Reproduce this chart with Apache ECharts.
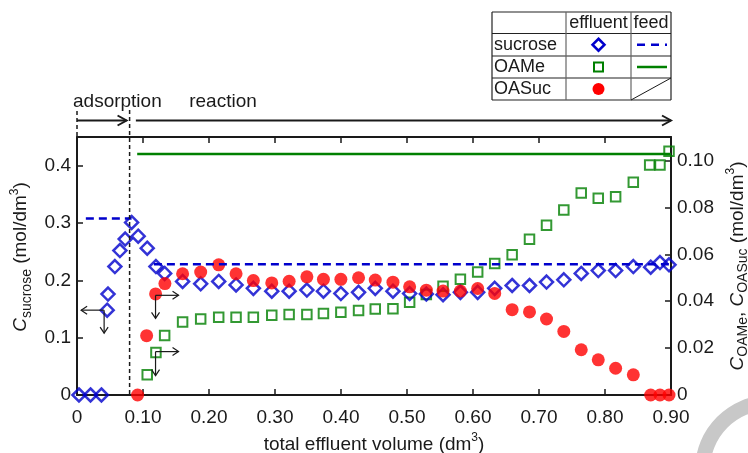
<!DOCTYPE html>
<html>
<head>
<meta charset="utf-8">
<script src="https://cdn.jsdelivr.net/npm/echarts@6/dist/echarts.min.js"></script>
<style>
html, body { margin: 0; padding: 0; background: #fff; }
#chart { width: 748px; height: 453px; }
</style>
</head>
<body>
<div id="chart"></div>
<script>
const FONT = '"Liberation Sans", Arial, sans-serif';
const BLUE = '#0000cc', GREEN = '#008000', RED = '#ff0000', INK = '#1a1a1a';

// effluent samples (volume in dm3)
const sucroseVol = [0.003, 0.0205, 0.037, 0.0457, 0.047, 0.0574, 0.065, 0.073, 0.0827, 0.0927, 0.1064, 0.1196, 0.1328,
  0.160, 0.1874, 0.2147, 0.241, 0.2672, 0.2951, 0.3214, 0.3483, 0.3734, 0.3998, 0.4266, 0.4519, 0.4787, 0.504,
  0.5293, 0.5546, 0.5809, 0.6071, 0.6329, 0.6593, 0.6856, 0.7114, 0.7376, 0.764, 0.7898, 0.8161, 0.8429, 0.8692, 0.8833, 0.897];
const sucroseConc = [0, 0, 0, 0.148, 0.176, 0.224, 0.252, 0.272, 0.301, 0.277, 0.256, 0.224, 0.212,
  0.198, 0.194, 0.198, 0.192, 0.186, 0.181, 0.181, 0.183, 0.181, 0.177, 0.179, 0.186, 0.181, 0.177,
  0.176, 0.175, 0.179, 0.179, 0.186, 0.191, 0.191, 0.197, 0.201, 0.212, 0.217, 0.217, 0.224, 0.223, 0.231, 0.227];

const oameVol = [0.1064, 0.1196, 0.1328, 0.160, 0.1874, 0.2147, 0.241, 0.2672, 0.2951, 0.3214, 0.3483, 0.3734, 0.3998,
  0.4266, 0.4519, 0.4787, 0.504, 0.5293, 0.5546, 0.5809, 0.6071, 0.6329, 0.6593, 0.6856, 0.7114, 0.7376, 0.764,
  0.7898, 0.8161, 0.8429, 0.8677, 0.8833, 0.897];
const oameConc = [0.0086, 0.0181, 0.0254, 0.0311, 0.0324, 0.0331, 0.0331, 0.0331, 0.034, 0.0343, 0.0343, 0.0347, 0.0353,
  0.036, 0.0367, 0.0368, 0.0395, 0.0428, 0.0464, 0.0493, 0.0524, 0.0561, 0.0598, 0.0664, 0.0724, 0.0789, 0.0861,
  0.0839, 0.0845, 0.0907, 0.0981, 0.0981, 0.1039];

const oasucVol = [0.0918, 0.1055, 0.1191, 0.1332, 0.160, 0.1874, 0.2147, 0.241, 0.2672, 0.2951, 0.3214, 0.3483, 0.3734,
  0.3998, 0.4266, 0.4519, 0.4787, 0.504, 0.5293, 0.5546, 0.5809, 0.6071, 0.6329, 0.6593, 0.6856, 0.7114, 0.7376,
  0.764, 0.7898, 0.8161, 0.8429, 0.8692, 0.8833, 0.897];
const oasucConc = [0, 0.0253, 0.0431, 0.0475, 0.0517, 0.0524, 0.0555, 0.0517, 0.0488, 0.0478, 0.0485, 0.0504, 0.0493,
  0.0493, 0.05, 0.049, 0.0481, 0.0461, 0.0447, 0.0443, 0.0443, 0.0454, 0.0433, 0.0364, 0.0354, 0.0324, 0.0271,
  0.0193, 0.015, 0.0114, 0.0086, 0, 0, 0];

// feed concentrations and where they apply
const sucroseFeedAdsVol = [0.0134, 0.0827], sucroseFeedAds = 0.308;
const sucroseFeedRxnVol = [0.1165, 0.9], sucroseFeedRxn = 0.228;
const oameFeedVol = [0.0912, 0.9], oameFeed = 0.1028;
const adsorptionEnd = 0.0797;

// axis ranges
const xRange = [0, 0.9], xStep = 0.1;
const leftRange = [0, 0.45], leftStep = 0.1;
const rightRange = [0, 0.11], rightStep = 0.02;

const onStep = (v, step) => Math.abs(v / step - Math.round(v / step)) < 1e-6;
const pairs = (xs, ys) => xs.map((x, i) => [x, ys[i]]);
const flat = (xs, y) => xs.map(x => [x, y]);

const tickStyle = { show: true, inside: true, length: 6, lineStyle: { color: INK, width: 1.5 } };
const lineStyle = { show: true, onZero: false, lineStyle: { color: INK, width: 2 } };
const labelStyle = { color: INK, fontSize: 19, fontFamily: FONT };
const richName = {
  i: { fontStyle: 'italic', fontSize: 19, fontFamily: FONT, color: INK, lineHeight: 25 },
  sub: { fontSize: 14, fontFamily: FONT, color: INK, verticalAlign: 'bottom', lineHeight: 13 },
  sup: { fontSize: 12, fontFamily: FONT, color: INK, verticalAlign: 'top', lineHeight: 12 }
};
const nameStyle = { fontSize: 19, fontFamily: FONT, color: INK, lineHeight: 25, rich: richName };

const option = {
  animation: false,
  backgroundColor: '#fff',
  grid: { left: 77, right: 77, top: 137, bottom: 58, containLabel: false, outerBoundsMode: 'none' },
  xAxis: [{
    type: 'value', position: 'bottom', min: xRange[0], max: xRange[1], interval: xStep,
    axisLine: lineStyle, axisTick: tickStyle, splitLine: { show: false },
    axisLabel: Object.assign({ margin: 13, formatter: v => v === 0 ? '0' : v.toFixed(2) }, labelStyle),
    name: 'total effluent volume (dm{sup|3})', nameLocation: 'middle', nameGap: 33, nameTextStyle: nameStyle
  }, {
    type: 'value', position: 'top', min: xRange[0], max: xRange[1], interval: xStep,
    axisLine: lineStyle, axisTick: tickStyle, axisLabel: { show: false }, splitLine: { show: false }
  }],
  yAxis: [{
    type: 'value', position: 'left', min: leftRange[0], max: leftRange[1], interval: leftStep,
    axisLine: lineStyle, axisTick: tickStyle, splitLine: { show: false },
    axisLabel: Object.assign({ margin: 6, formatter: v => v === 0 ? '0' : (onStep(v, leftStep) ? v.toFixed(1) : '') }, labelStyle),
    name: '{i|C}{sub|sucrose} (mol/dm{sup|3})', nameLocation: 'middle', nameGap: 40, nameRotate: 90,
    nameTextStyle: Object.assign({ padding: [0, 0, 0, 18] }, nameStyle)
  }, {
    type: 'value', position: 'right', min: rightRange[0], max: rightRange[1], interval: rightStep,
    axisLine: lineStyle, axisTick: tickStyle, splitLine: { show: false },
    axisLabel: Object.assign({ margin: 6, formatter: v => v === 0 ? '0' : (onStep(v, rightStep) ? v.toFixed(2) : '') }, labelStyle),
    name: '{i|C}{sub|OAMe}, {i|C}{sub|OASuc} (mol/dm{sup|3})', nameLocation: 'middle', nameGap: 53, nameRotate: 90, nameTextStyle: nameStyle
  }],
  series: [
    { type: 'line', yAxisIndex: 0, data: flat(sucroseFeedAdsVol, sucroseFeedAds), symbol: 'none', silent: true,
      lineStyle: { color: BLUE, width: 2.5, type: [8, 5] } },
    { type: 'line', yAxisIndex: 0, data: flat(sucroseFeedRxnVol, sucroseFeedRxn), symbol: 'none', silent: true,
      lineStyle: { color: BLUE, width: 2.5, type: [8, 5] } },
    { type: 'line', yAxisIndex: 1, data: flat(oameFeedVol, oameFeed), symbol: 'none', silent: true,
      lineStyle: { color: GREEN, width: 2.5 } },
    { type: 'scatter', yAxisIndex: 1, data: pairs(oameVol, oameConc), symbol: 'rect', symbolSize: 9.5, clip: false,
      itemStyle: { color: 'rgba(255,255,255,0)', borderColor: GREEN, borderWidth: 2 } },
    { type: 'scatter', yAxisIndex: 0, data: pairs(sucroseVol, sucroseConc), symbol: 'diamond', symbolSize: 13, clip: false,
      itemStyle: { color: 'rgba(255,255,255,0)', borderColor: BLUE, borderWidth: 2.5 } },
    { type: 'scatter', yAxisIndex: 1, data: pairs(oasucVol, oasucConc), symbol: 'circle', symbolSize: 13, clip: false,
      itemStyle: { color: RED } }
  ]
};

const chart = echarts.init(document.getElementById('chart'));
chart.setOption(option);

const toPx = (x, y, yAxisIndex) => chart.convertToPixel({ xAxisIndex: 0, yAxisIndex: yAxisIndex }, [x, y]);

function arrow(x1, y1, x2, y2, lw, headLen, headHalf) {
  const a = Math.atan2(y2 - y1, x2 - x1);
  const c = Math.cos(a), s = Math.sin(a);
  const bx = x2 - c * headLen, by = y2 - s * headLen;
  return [
    { type: 'line', z: 100, shape: { x1: x1, y1: y1, x2: x2, y2: y2 }, style: { stroke: INK, lineWidth: lw } },
    { type: 'polyline', z: 100, shape: { points: [[bx - s * headHalf, by + c * headHalf], [x2, y2], [bx + s * headHalf, by - c * headHalf]] },
      style: { stroke: INK, lineWidth: lw, fill: null } }
  ];
}
function txt(x, y, text, align, size) {
  return { type: 'text', z: 100, x: x, y: y,
    style: { text: text, fontSize: size || 18, fontFamily: FONT, fill: INK, align: align || 'left', verticalAlign: 'middle' } };
}

const origin = toPx(0, 0, 0);
const gridTop = toPx(0, leftRange[1], 0)[1];
const gridBottom = origin[1];
const arrowY = gridTop - 16.5;
const dash = { stroke: INK, lineWidth: 1.5, lineDash: [4, 3] };
const g = [];

// phase markers above the plot
const xEnd = toPx(adsorptionEnd, 0, 0)[0];
g.push({ type: 'line', z: 100, shape: { x1: origin[0], y1: gridTop - 26, x2: origin[0], y2: gridTop }, style: dash });
g.push({ type: 'line', z: 100, shape: { x1: xEnd, y1: gridTop - 27, x2: xEnd, y2: gridBottom }, style: dash });
g.push(...arrow(origin[0], arrowY, toPx(0.0751, 0, 0)[0], arrowY, 2, 9, 5));
g.push(...arrow(toPx(0.0892, 0, 0)[0], arrowY, toPx(0.9, 0, 0)[0], arrowY, 2, 9, 5));
g.push(txt(origin[0] - 4, gridTop - 35, 'adsorption', 'left', 19));
g.push(txt(toPx(0.170, 0, 0)[0], gridTop - 35, 'reaction', 'left', 19));

// axis hint arrows
const pS = toPx(0.0411, 0.148, 0);
g.push(...arrow(pS[0], pS[1], pS[0] - 23, pS[1], 1.2, 6, 4));
g.push(...arrow(pS[0], pS[1], pS[0], pS[1] + 23, 1.2, 6, 4));
const pC = toPx(0.119, 0.0425, 1);
g.push(...arrow(pC[0], pC[1], pC[0] + 23, pC[1], 1.2, 6, 4));
g.push(...arrow(pC[0], pC[1], pC[0], pC[1] + 23, 1.2, 6, 4));
const pM = toPx(0.119, 0.0185, 1);
g.push(...arrow(pM[0], pM[1], pM[0] + 23, pM[1], 1.2, 6, 4));
g.push(...arrow(pM[0], pM[1], pM[0], pM[1] + 24, 1.2, 6, 4));

// legend table
const cols = [492, 566, 631, 671], rows = [12, 33.5, 56, 78, 100];
const cell = { stroke: '#222', lineWidth: 1.2 };
rows.forEach(y => g.push({ type: 'line', z: 100, shape: { x1: cols[0], y1: y, x2: cols[3], y2: y }, style: cell }));
cols.forEach((x, i) => g.push({ type: 'line', z: 100, shape: { x1: x, y1: rows[0], x2: x, y2: rows[4] },
  style: { stroke: (i === 1 || i === 2) ? '#666' : '#222', lineWidth: 1.2 } }));
const midE = (cols[1] + cols[2]) / 2, midF = (cols[2] + cols[3]) / 2;
const rowMid = i => (rows[i] + rows[i + 1]) / 2;
g.push(txt(midE, rowMid(0), 'effluent', 'center'));
g.push(txt(midF, rowMid(0), 'feed', 'center'));
g.push(txt(cols[0] + 2, rowMid(1), 'sucrose'));
g.push(txt(cols[0] + 2, rowMid(2), 'OAMe'));
g.push(txt(cols[0] + 2, rowMid(3), 'OASuc'));
const dy = rowMid(1);
g.push({ type: 'polygon', z: 100, shape: { points: [[midE, dy - 6], [midE + 6, dy], [midE, dy + 6], [midE - 6, dy]] },
  style: { stroke: BLUE, lineWidth: 2.5, fill: null } });
g.push({ type: 'rect', z: 100, shape: { x: midE - 4.5, y: rowMid(2) - 4.5, width: 9, height: 9 },
  style: { stroke: GREEN, lineWidth: 2, fill: null } });
g.push({ type: 'circle', z: 100, shape: { cx: midE, cy: rowMid(3), r: 6 }, style: { fill: RED } });
g.push({ type: 'line', z: 100, shape: { x1: cols[2] + 6, y1: dy, x2: cols[3] - 4, y2: dy },
  style: { stroke: BLUE, lineWidth: 2.5, lineDash: [8, 6] } });
g.push({ type: 'line', z: 100, shape: { x1: cols[2] + 6, y1: rowMid(2), x2: cols[3] - 4, y2: rowMid(2) },
  style: { stroke: GREEN, lineWidth: 2.5 } });
g.push({ type: 'line', z: 100, shape: { x1: cols[2], y1: rows[4], x2: cols[3], y2: rows[3] },
  style: { stroke: INK, lineWidth: 1 } });

// grey ring in the corner
g.push({ type: 'ring', z: 1, shape: { cx: 770, cy: 470, r: 75, r0: 60 }, style: { fill: '#c8c8c8' } });

chart.setOption({ graphic: g });
</script>
</body>
</html>
